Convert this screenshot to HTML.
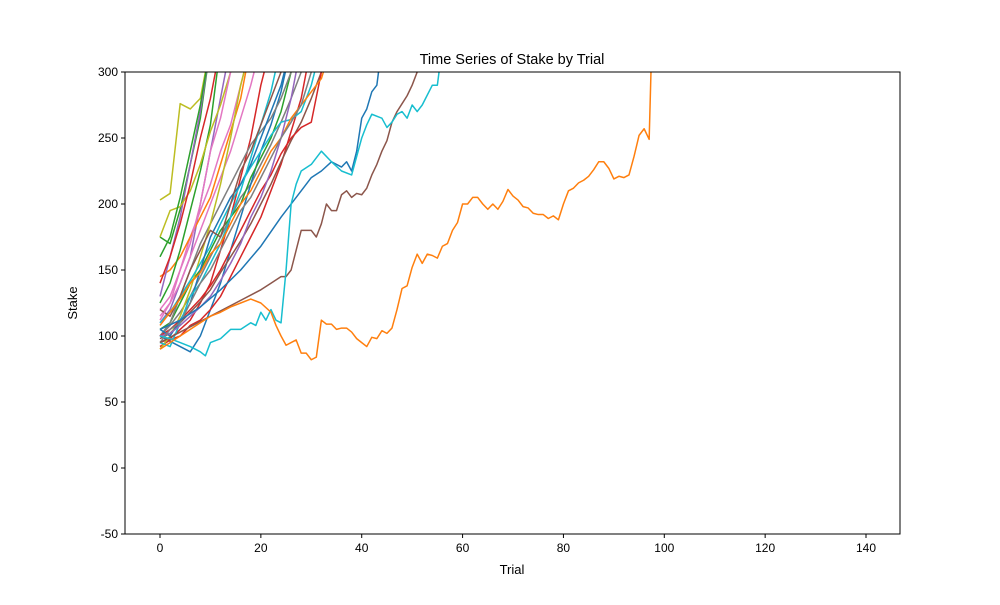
<!DOCTYPE html>
<html><head><meta charset="utf-8"><style>
body{margin:0;background:#fff;font-family:"Liberation Sans",sans-serif}
svg text{font-family:"Liberation Sans",sans-serif;fill:#000}
</style></head><body>
<svg id="c" width="1000" height="600"></svg>
<script>
const xTicks = [0,20,40,60,80,100,120,140];
const yTicks = [-50,0,50,100,150,200,250,300];
const colors = ["#1f77b4","#ff7f0e","#2ca02c","#d62728","#9467bd","#8c564b","#e377c2","#7f7f7f","#bcbd22","#17becf"];
// long series with explicit trials
const orangeX = [0,2,4,6,8,10,12,14,16,18,20,22,23,24,25,26,27,28,29,30,31,32,33,34,35,36,37,38,39,40,41,42,43,44,45,46,47,48,49,50,51,52,53,54,55,56,57,58,59,60,61,62,63,64,65,66,67,68,69,70,71,72,73,74,75,76,77,78,79,80,81,82,83,84,85,86,87,88,89,90,91,92,93,94,95,96,97,97.5];
const orangeY = [90,95,100,105,110,115,118,122,125,128,125,118,108,100,93,95,97,87,87,82,84,112,109,109,105,106,106,103,98,95,92,99,98,104,102,106,120,136,138,152,162,155,162,161,159,168,170,180,186,200,200,205,205,200,196,200,196,202,211,206,203,198,197,193,192,192,189,191,188,200,210,212,216,218,221,226,232,232,227,219,221,220,222,236,252,257,249,320];
const cyanX = [0,2,4,6,8,9,10,12,14,16,18,19,20,21,22,23,24,25,26,27,28,30,32,34,36,38,40,41,42,44,45,46,47,48,49,50,51,52,54,55,56];
const cyanY = [100,98,95,92,88,85,95,98,105,105,110,108,118,112,120,112,110,150,200,215,225,230,240,232,225,222,250,260,268,265,258,262,268,270,265,275,270,275,290,290,320];
const brownX = [0,5,10,15,20,22,24,25,26,27,28,30,31,32,33,34,35,36,37,38,39,40,41,42,43,44,45,46,47,48,49,50,51,52];
const brownY = [95,105,115,125,135,140,145,145,150,165,180,180,175,185,200,195,195,207,210,205,208,207,212,222,230,240,248,262,270,276,282,290,300,320];
const blueX = [0,4,8,12,16,20,24,28,30,32,34,36,37,38,39,40,41,42,43,44];
const blueY = [105,112,122,135,150,168,190,210,220,225,232,228,232,225,240,265,272,285,290,320];
// short series sampled every 2 trials from trial 0
const step = 2;
const s1 = [100,108,118,130,145,160,175,190,205,215,230,245,262,280,300,320];
const s2 = [203,208,276,272,280,320];
const s3 = [175,170,196,230,265,320];
const s4 = [110,120,140,160,200,240,280,320];
const s5 = [95,98,105,112,125,140,165,190,220,250,290,320];
const s6 = [120,130,150,175,195,215,240,260,290,320];
const s7 = [100,96,92,88,100,120,140,165,190,215,240,260,285,320];
const s8 = [145,150,160,175,190,205,230,255,280,320];
const s9 = [105,110,125,140,150,165,180,190,200,220,235,250,270,300,320];
const s10 = [92,97,100,108,112,120,130,145,160,175,190,210,230,255,280,320];
const s11 = [130,160,190,230,270,320];
const s12 = [98,102,110,118,126,135,148,160,172,185,200,215,232,248,262,280,300,320];
const s13 = [115,125,140,160,180,200,220,240,265,290,320];
const s14 = [100,110,130,150,170,185,200,215,230,245,255,265,280,300,320];
const s15 = [90,100,115,135,160,185,215,250,290,320];
const s16 = [110,118,130,142,155,168,185,200,215,228,240,252,262,264,270,290,320];
const s17 = [125,140,165,195,225,260,320];
const s18 = [100,105,112,120,128,138,150,165,180,195,210,222,238,250,258,262,300,320];
const s19 = [175,195,198,210,230,255,275,300,320];
const s20 = [105,100,112,125,150,175,190,205,215,230,250,270,290,320];
const s21 = [95,92,110,130,140,155,170,190,210,235,260,285,320];
const s22 = [140,160,185,215,250,280,320];
const s23 = [120,115,130,150,165,180,175,200,225,240,260,280,300,320];
const s24 = [108,118,128,140,148,162,170,185,200,210,225,240,250,265,275,285,295,320];
const s25 = [100,102,108,115,122,130,142,155,170,190,205,225,250,280,320];
const s26 = [112,125,150,170,200,240,265,300,320];
const s27 = [95,105,110,125,140,150,165,180,195,205,220,235,250,262,275,300,320];
const s28 = [160,175,205,240,275,320];
const shortSeries = [s1,s2,s3,s4,s5,s6,s7,s8,s9,s10,s11,s12,s13,s14,s15,s16,s17,s18,s19,s20,s21,s22,s23,s24,s25,s26,s27,s28];
const shortColors = [7,8,2,4,3,6,0,1,2,3,4,5,6,7,8,9,2,3,8,0,9,3,5,1,4,6,7,2];

const L=125,R=900,T=72,B=534,xMin=-6.94,xMax=146.74,yMin=-50,yMax=300;
const X=v=>L+(v-xMin)/(xMax-xMin)*(R-L);
const Y=v=>B-(v-yMin)/(yMax-yMin)*(B-T);
const svg=document.getElementById('c');
const NS="http://www.w3.org/2000/svg";
function mk(t,a){const e=document.createElementNS(NS,t);for(const k in a)e.setAttribute(k,a[k]);return e;}
const defs=mk('defs',{});const cp=mk('clipPath',{id:'pc'});cp.appendChild(mk('rect',{x:L,y:T,width:R-L,height:B-T}));defs.appendChild(cp);svg.appendChild(defs);
const g=mk('g',{'clip-path':'url(#pc)'});


svg.appendChild(g);
function draw(xs,ys,col,name){
  const p=mk('polyline',{points:ys.map((v,j)=>X(xs[j])+','+Y(v)).join(' '),fill:'none',stroke:col,'stroke-width':1.5,'stroke-linejoin':'round'});
  
  
  g.appendChild(p);
}
shortSeries.forEach((s,i)=>draw(s.map((v,j)=>j*step),s,colors[shortColors[i]],'series-line-'+i));
draw(brownX,brownY,colors[5],'series-line-brown');
draw(blueX,blueY,colors[0],'series-line-blue');
draw(cyanX,cyanY,colors[9],'series-line-cyan');
draw(orangeX,orangeY,colors[1],'series-line-orange');
const fr=mk('rect',{x:L,y:T,width:R-L,height:B-T,fill:'none',stroke:'#000','stroke-width':1});


svg.appendChild(fr);
xTicks.forEach(v=>{
  svg.appendChild(mk('line',{x1:X(v),x2:X(v),y1:B,y2:B+4,stroke:'#000'}));
  const t=mk('text',{x:X(v),y:B+18,'text-anchor':'middle','font-size':12});t.textContent=v;
  
  
  svg.appendChild(t);
});
yTicks.forEach(v=>{
  svg.appendChild(mk('line',{x1:L-4,x2:L,y1:Y(v),y2:Y(v),stroke:'#000'}));
  const t=mk('text',{x:L-7,y:Y(v)+4,'text-anchor':'end','font-size':12});t.textContent=v;
  
  
  svg.appendChild(t);
});
const tt=mk('text',{x:512,y:64,'text-anchor':'middle','font-size':14.5});tt.textContent='Time Series of Stake by Trial';


svg.appendChild(tt);
const xl=mk('text',{x:512,y:574,'text-anchor':'middle','font-size':13});xl.textContent='Trial';


svg.appendChild(xl);
const yl=mk('text',{x:77,y:303,'text-anchor':'middle','font-size':13,transform:'rotate(-90 77 303)'});yl.textContent='Stake';


svg.appendChild(yl);
</script>
</body></html>
